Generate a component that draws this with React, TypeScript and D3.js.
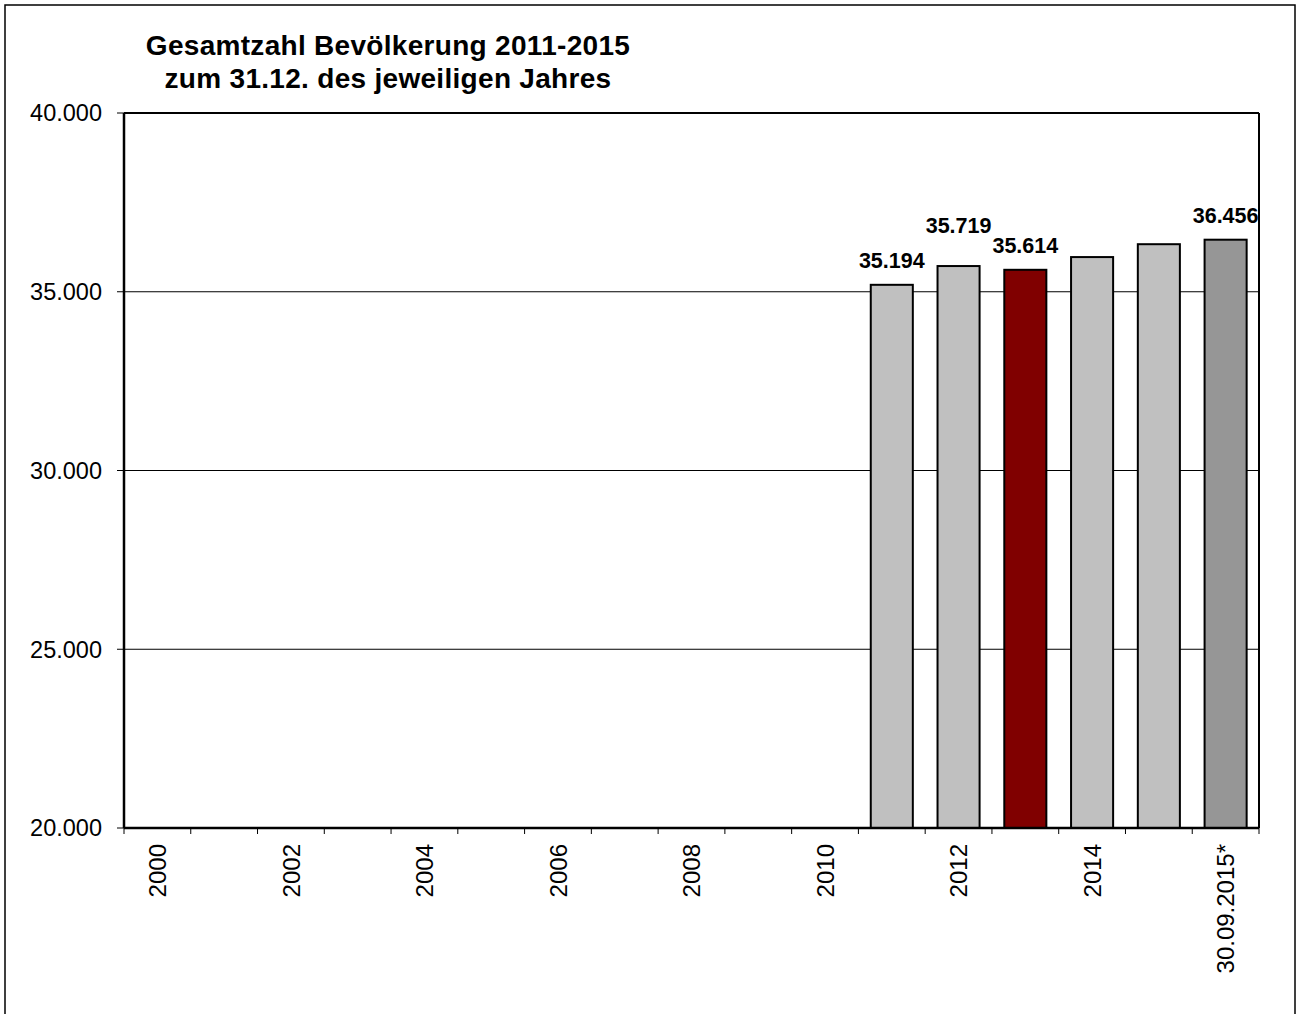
import React from "react";
import * as d3 from "d3";

const categories = [
  "2000", "2001", "2002", "2003", "2004", "2005", "2006", "2007", "2008",
  "2009", "2010", "2011", "2012", "2013", "2014", "2015", "30.09.2015*",
];
const populationValues: (number | null)[] = [
  null, null, null, null, null, null, null, null, null, null, null,
  35194, 35719, 35614, 35970, 36330, 36456,
];
const labeledCategories = ["2011", "2012", "2013", "30.09.2015*"];
const axisLabelCategories = [
  "2000", "2002", "2004", "2006", "2008", "2010", "2012", "2014", "30.09.2015*",
];
const yTickValues = [20000, 25000, 30000, 35000, 40000];
const titleLines = [
  "Gesamtzahl Bevölkerung 2011-2015",
  "zum 31.12. des jeweiligen Jahres",
];

const W = 1304;
const H = 1014;
const plot = { left: 124, right: 1259, top: 113, bottom: 828 };
const FONT = "'Liberation Sans', Arial, Helvetica, sans-serif";

const locale = d3.formatLocale({
  decimal: ",",
  thousands: ".",
  grouping: [3],
  currency: ["", " €"],
});
const fmt = locale.format(",d");

export default function App() {
  const x = d3
    .scaleBand<string>()
    .domain(categories)
    .range([plot.left, plot.right])
    .paddingInner(0.37)
    .paddingOuter(0.185);
  const step = x.step();
  const y = d3.scaleLinear().domain([20000, 40000]).range([plot.bottom, plot.top]);

  const fillFor = (c: string) =>
    c === "2013" ? "#800000" : c === "30.09.2015*" ? "#969696" : "#C0C0C0";
  const extraLift: Record<string, number> = { "2012": 16 };

  const boundaries = d3.range(categories.length + 1).map((i) => plot.left + i * step);

  return (
    <svg
      width={W}
      height={H}
      style={{ position: "absolute", left: 0, top: 0, background: "#fff" }}
      fontFamily={FONT}
    >
      <rect x={0} y={0} width={W} height={H} fill="#fff" />
      {/* outer frame */}
      <rect x={5} y={5} width={1290} height={H + 20} fill="none" stroke="#000" strokeWidth={1.5} />

      {/* title */}
      {titleLines.map((t, i) => (
        <text
          key={t}
          x={388}
          y={55 + i * 33}
          textAnchor="middle"
          fontSize={28}
          fontWeight="bold"
          letterSpacing={0.3}
          fill="#000"
        >
          {t}
        </text>
      ))}

      {/* gridlines */}
      {yTickValues
        .filter((v) => v !== 20000 && v !== 40000)
        .map((v) => (
          <line key={v} x1={plot.left} x2={plot.right} y1={y(v)} y2={y(v)} stroke="#000" strokeWidth={1} />
        ))}

      {/* bars */}
      {categories.map((c, i) => {
        const v = populationValues[i];
        if (v == null) return null;
        return (
          <rect
            key={c}
            x={x(c)}
            y={y(v)}
            width={x.bandwidth()}
            height={y(20000) - y(v)}
            fill={fillFor(c)}
            stroke="#000"
            strokeWidth={2}
          />
        );
      })}

      {/* plot frame top/right */}
      <line x1={plot.left} x2={plot.right} y1={plot.top} y2={plot.top} stroke="#000" strokeWidth={2} />
      <line x1={plot.right} x2={plot.right} y1={plot.top} y2={plot.bottom} stroke="#000" strokeWidth={2} />
      {/* axes */}
      <line x1={plot.left} x2={plot.left} y1={plot.top} y2={plot.bottom} stroke="#000" strokeWidth={2.5} />
      <line x1={plot.left} x2={plot.right} y1={plot.bottom} y2={plot.bottom} stroke="#000" strokeWidth={2.5} />

      {/* y ticks and labels */}
      {yTickValues.map((v) => (
        <g key={v}>
          <line x1={plot.left - 7} x2={plot.left} y1={y(v)} y2={y(v)} stroke="#000" strokeWidth={1} />
          <text x={102} y={y(v)} dy="0.36em" textAnchor="end" fontSize={23.5} fill="#000">
            {fmt(v)}
          </text>
        </g>
      ))}

      {/* x ticks */}
      {boundaries.map((bx, i) => (
        <line key={i} x1={bx} x2={bx} y1={plot.bottom} y2={plot.bottom + 6} stroke="#000" strokeWidth={1} />
      ))}

      {/* x labels */}
      {axisLabelCategories.map((c) => {
        const cx = (x(c) ?? 0) + x.bandwidth() / 2;
        return (
          <text
            key={c}
            transform={`translate(${cx},844) rotate(-90)`}
            textAnchor="end"
            dy="0.36em"
            fontSize={24}
            fill="#000"
          >
            {c}
          </text>
        );
      })}

      {/* value labels */}
      {categories.map((c, i) => {
        const v = populationValues[i];
        if (v == null || !labeledCategories.includes(c)) return null;
        const cx = (x(c) ?? 0) + x.bandwidth() / 2;
        return (
          <text
            key={c}
            x={cx}
            y={y(v) - 17 - (extraLift[c] ?? 0)}
            textAnchor="middle"
            fontSize={21.5}
            fontWeight="bold"
            fill="#000"
          >
            {fmt(v)}
          </text>
        );
      })}
    </svg>
  );
}
